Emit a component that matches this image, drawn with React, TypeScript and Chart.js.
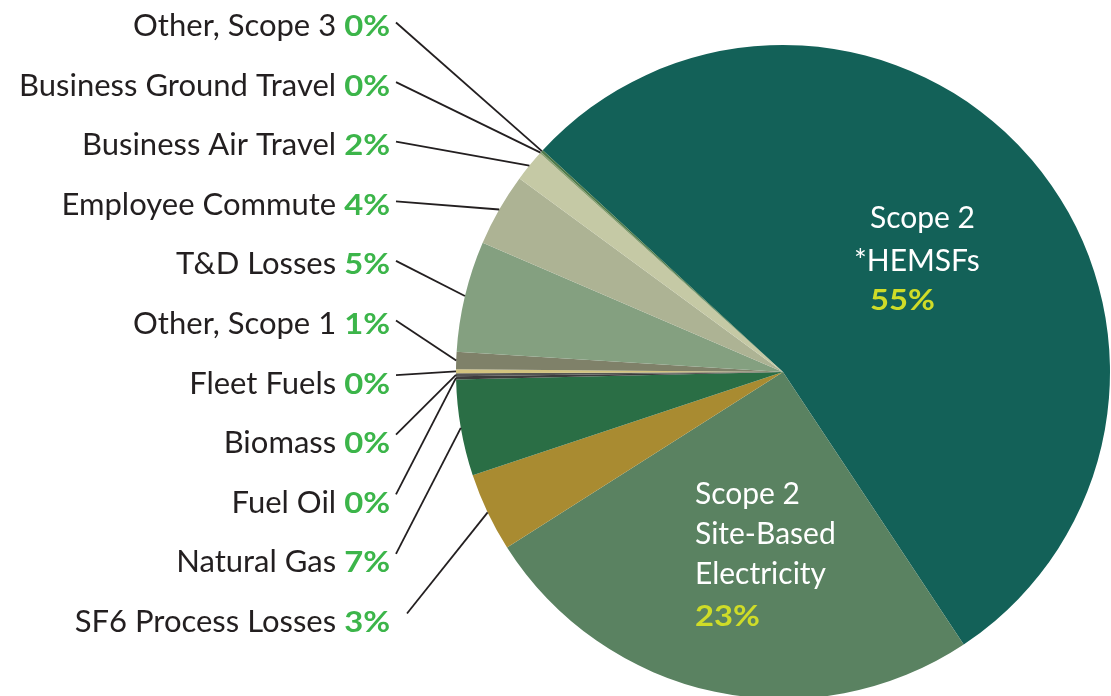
import { useEffect, useRef } from "react";
import { Chart, registerables } from "chart.js";

Chart.register(...registerables);

// Slices in clockwise order, starting at the upper-left edge of the big teal slice
const categories = [
  "Scope 2 *HEMSFs",
  "Scope 2 Site-Based Electricity",
  "SF6 Process Losses",
  "Natural Gas",
  "Fuel Oil",
  "Biomass",
  "Fleet Fuels",
  "Other, Scope 1",
  "T&D Losses",
  "Employee Commute",
  "Business Air Travel",
  "Business Ground Travel",
  "Other, Scope 3",
];
// slice sizes as drawn (share of the circle, %)
const sliceValues = [53.8, 25.3, 3.9, 4.75, 0.15, 0.15, 0.19, 0.86, 5.48, 3.61, 1.58, 0.08, 0.12];
// percentages printed on the chart
const percentLabels = ["55%", "23%", "3%", "7%", "0%", "0%", "0%", "1%", "5%", "4%", "2%", "0%", "0%"];
const sliceColors = [
  "#136158",
  "#5a8261",
  "#a98b31",
  "#2a6e45",
  "#3c3c3c",
  "#555553",
  "#d3c47f",
  "#7f8169",
  "#84a080",
  "#adb394",
  "#c5c9a5",
  "#8aa070",
  "#4e7a4a",
];
// inside labels
const hemsfLines = ["Scope 2", "*HEMSFs"];
const siteLines = ["Scope 2", "Site-Based", "Electricity"];

const FONT = "Lato, 'Open Sans', sans-serif";
const TEXT_COLOR = "#231f20";
const PCT_GREEN = "#3cb54a";
const PCT_YELLOW = "#cfdc28";
const PCT_STRETCH = 1.13;

function stretchedText(
  ctx: CanvasRenderingContext2D,
  text: string,
  x: number,
  y: number,
  align: CanvasTextAlign
) {
  ctx.save();
  ctx.translate(x, y);
  ctx.scale(PCT_STRETCH, 1);
  ctx.textAlign = align;
  ctx.fillText(text, 0, 0);
  const w = ctx.measureText(text).width * PCT_STRETCH;
  ctx.restore();
  return w;
}

const labelPlugin = {
  id: "leaderLabels",
  afterDraw(chart: any) {
    const ctx = chart.ctx as CanvasRenderingContext2D;
    const meta = chart.getDatasetMeta(0);
    const arcs = meta.data as any[];
    if (!arcs.length) return;
    const cx = arcs[0].x;
    const cy = arcs[0].y;
    const r = arcs[0].outerRadius;
    ctx.save();
    ctx.textBaseline = "alphabetic";

    // left labels: data index 2..12, bottom to top
    const rightEdge = 390;
    const firstBaseline = 36;
    const rowGap = 59.6;
    for (let i = 2; i < categories.length; i++) {
      const row = categories.length - 1 - i;
      const baseline = firstBaseline + rowGap * row;
      ctx.font = `bold 29px ${FONT}`;
      ctx.fillStyle = PCT_GREEN;
      const pw = stretchedText(ctx, percentLabels[i], rightEdge, baseline, "right");
      ctx.font = `31px ${FONT}`;
      ctx.fillStyle = TEXT_COLOR;
      ctx.textAlign = "right";
      ctx.fillText(categories[i], rightEdge - pw - 8, baseline);

      const a = arcs[i];
      const mid = (a.startAngle + a.endAngle) / 2;
      const tx = cx + r * Math.cos(mid);
      const ty = cy + r * Math.sin(mid);
      const sx = i === 2 ? 407 : 396;
      const sy = baseline - 10.5 - (ty < baseline - 10 ? 8 : 3);
      ctx.beginPath();
      ctx.moveTo(sx, sy);
      ctx.lineTo(tx, ty);
      ctx.strokeStyle = TEXT_COLOR;
      ctx.lineWidth = 1.8;
      ctx.stroke();
    }

    // inside labels
    ctx.textAlign = "left";
    ctx.fillStyle = "#ffffff";
    ctx.font = `30px ${FONT}`;
    ctx.fillText(hemsfLines[0], cx + 87, cy - 144);
    ctx.fillText(hemsfLines[1], cx + 71, cy - 101);
    ctx.font = `bold 29px ${FONT}`;
    ctx.fillStyle = PCT_YELLOW;
    stretchedText(ctx, percentLabels[0], cx + 87, cy - 62, "left");

    ctx.font = `30px ${FONT}`;
    ctx.fillStyle = "#ffffff";
    siteLines.forEach((t, k) => {
      ctx.fillText(t, cx - 88, cy + 132 + 40 * k);
    });
    ctx.font = `bold 29px ${FONT}`;
    ctx.fillStyle = PCT_YELLOW;
    stretchedText(ctx, percentLabels[1], cx - 88, cy + 254, "left");
    ctx.restore();
  },
};

export default function App() {
  const ref = useRef<HTMLCanvasElement | null>(null);
  useEffect(() => {
    if (!ref.current) return;
    const chart = new Chart(ref.current, {
      type: "pie",
      data: {
        labels: categories,
        datasets: [
          {
            data: sliceValues,
            backgroundColor: sliceColors,
            borderWidth: 0,
            hoverOffset: 0,
            offset: 0,
          },
        ],
      },
      options: {
        responsive: false,
        animation: false,
        devicePixelRatio: 1,
        rotation: 312.71,
        layout: { padding: { left: 456, right: 1, top: 45, bottom: 3 } },
        plugins: {
          legend: { display: false },
          tooltip: { enabled: false },
        },
        events: [],
      },
      plugins: [labelPlugin],
    });
    return () => chart.destroy();
  }, []);
  return (
    <div
      style={{
        position: "fixed",
        left: 0,
        top: 0,
        width: 1111,
        height: 696,
        overflow: "hidden",
        background: "#ffffff",
      }}
    >
      <canvas ref={ref} width={1111} height={702} style={{ width: 1111, height: 702, display: "block" }} />
    </div>
  );
}
